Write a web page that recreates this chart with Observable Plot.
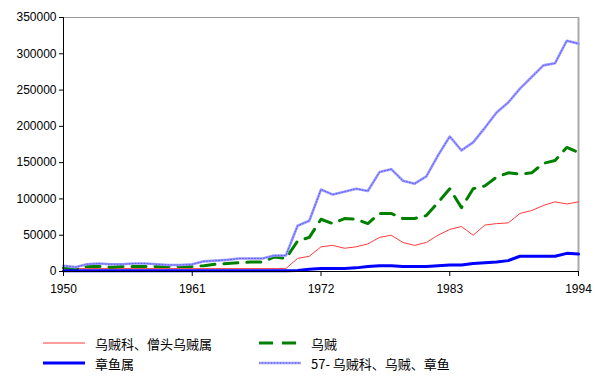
<!DOCTYPE html>
<html><head><meta charset="utf-8">
<script src="https://cdn.jsdelivr.net/npm/d3@7"></script>
<script src="https://cdn.jsdelivr.net/npm/@observablehq/plot@0.6"></script>
<style>
body{margin:0;background:#fff;font-family:"Liberation Sans",Arial,sans-serif;}
#legend{position:relative;width:600px;height:74px;font-family:"Noto Sans CJK SC",sans-serif;font-size:13px;color:#000;}
.item{position:absolute;display:flex;align-items:center;height:18px;}
.item svg{margin-right:8px;}
</style></head><body>
<div id="chart"></div>
<div id="legend"></div>
<script>
const years = [1950,1951,1952,1953,1954,1955,1956,1957,1958,1959,1960,1961,1962,1963,1964,1965,1966,1967,1968,1969,1970,1971,1972,1973,1974,1975,1976,1977,1978,1979,1980,1981,1982,1983,1984,1985,1986,1987,1988,1989,1990,1991,1992,1993,1994];
const seriesNames = ["乌贼科、僧头乌贼属","乌贼","章鱼属","57- 乌贼科、乌贼、章鱼"];
const redVals = [4000,4000,4000,4000,4000,4000,4000,4000,4000,4000,4000,4000,4000,4000,4000,4000,4000,4000,4000,4000,18000,21000,34000,36000,32000,34000,38000,47000,50000,40000,36000,40000,50000,58000,62000,50000,64000,66000,67000,80000,84000,91000,96000,93000,96000];
const greenVals = [5000,3000,7000,7000,6000,7000,7000,7000,7000,7000,7000,7000,8000,10000,11000,12000,13000,13000,20000,18000,42000,47000,72000,66000,73000,72000,66000,80000,80000,73000,73000,77000,95000,114000,88000,114000,118000,130000,136000,134000,136000,149000,153000,171000,164000];
const blueVals = [1000,1000,1000,1000,1000,1000,1000,1000,1000,1000,1000,1000,1000,1000,1000,1000,1000,1000,1000,1000,1500,3000,4000,4000,4000,5000,7000,8000,8000,7000,7000,7000,8000,9000,9000,11000,12000,13000,15000,21000,21000,21000,21000,25000,24000];
const totalVals = [8000,6000,10000,11000,10000,10000,11000,11000,10000,9000,9000,10000,14000,15000,16000,18000,18000,18000,22000,22000,63000,70000,113000,106000,110000,114000,111000,137000,141000,125000,121000,131000,160000,186000,167000,178000,198000,219000,233000,252000,268000,284000,287000,318000,314000];
const xTicks = [1950,1961,1972,1983,1994];
const yTicks = [0,50000,100000,150000,200000,250000,300000,350000];

const mk = vals => years.map((y,i)=>({year:y, v:vals[i]}));
const red = mk(redVals), green = mk(greenVals), blue = mk(blueVals), total = mk(totalVals);

const chart = Plot.plot({
  width:600, height:305,
  marginLeft:63, marginRight:22, marginTop:17, marginBottom:34,
  style:{fontFamily:'"Liberation Sans",Arial,sans-serif', fontSize:"12px", color:"#000", background:"#fff"},
  x:{domain:[1950,1994], ticks:xTicks, tickFormat:d=>String(d), label:null},
  y:{domain:[0,350000], ticks:yTicks, tickFormat:d=>String(d), label:null},
  marks:[
    Plot.ruleY([350000],{stroke:"#999",strokeWidth:1}),
    Plot.ruleX([1994],{stroke:"#aaa",strokeWidth:2}),
    Plot.line(red,{x:"year",y:"v",stroke:"#ff3b3b",strokeWidth:1}),
    Plot.line(green,{x:"year",y:"v",stroke:"#008000",strokeWidth:3,strokeDasharray:"14,9"}),
    Plot.line(blue,{x:"year",y:"v",stroke:"#0000ff",strokeWidth:3}),
    Plot.line(total,{x:"year",y:"v",stroke:"#9c9cff",strokeWidth:2.6}),
    Plot.line(total,{x:"year",y:"v",stroke:"#3a3aff",strokeWidth:0.7,strokeDasharray:"1,2"}),
    Plot.ruleX([1950],{stroke:"#000",strokeWidth:1}),
    Plot.ruleY([0],{stroke:"#000",strokeWidth:1}),
    Plot.axisX({ticks:xTicks, tickFormat:d=>String(d), tickSize:5, tickPadding:8, stroke:"#000"}),
    Plot.axisY({ticks:yTicks, tickFormat:d=>String(d), tickSize:4, tickPadding:3, stroke:"#000"})
  ]
});
document.getElementById("chart").appendChild(chart);

const legend = document.getElementById("legend");
const swatches = [
  {name:seriesNames[0], left:43, top:38, svg:'<line x1="0" y1="5" x2="42" y2="5" stroke="#ff3b3b" stroke-width="1"/>'},
  {name:seriesNames[1], left:259, top:38, svg:'<line x1="0" y1="5" x2="42" y2="5" stroke="#008000" stroke-width="3" stroke-dasharray="14,9"/>'},
  {name:seriesNames[2], left:43, top:58, svg:'<line x1="0" y1="5" x2="42" y2="5" stroke="#0000ff" stroke-width="3"/>'},
  {name:seriesNames[3], left:259, top:58, svg:'<line x1="0" y1="5" x2="42" y2="5" stroke="#9c9cff" stroke-width="2.4"/><line x1="0" y1="5" x2="42" y2="5" stroke="#3a3aff" stroke-width="0.7" stroke-dasharray="1,2"/>'}
];
for (const s of swatches) {
  const d = document.createElement("div");
  d.className = "item";
  d.style.left = s.left + "px"; d.style.top = (s.top - 9) + "px";
  d.innerHTML = '<svg width="44" height="10">' + s.svg + '</svg><span>' + s.name + '</span>';
  legend.appendChild(d);
}
</script>
</body></html>
